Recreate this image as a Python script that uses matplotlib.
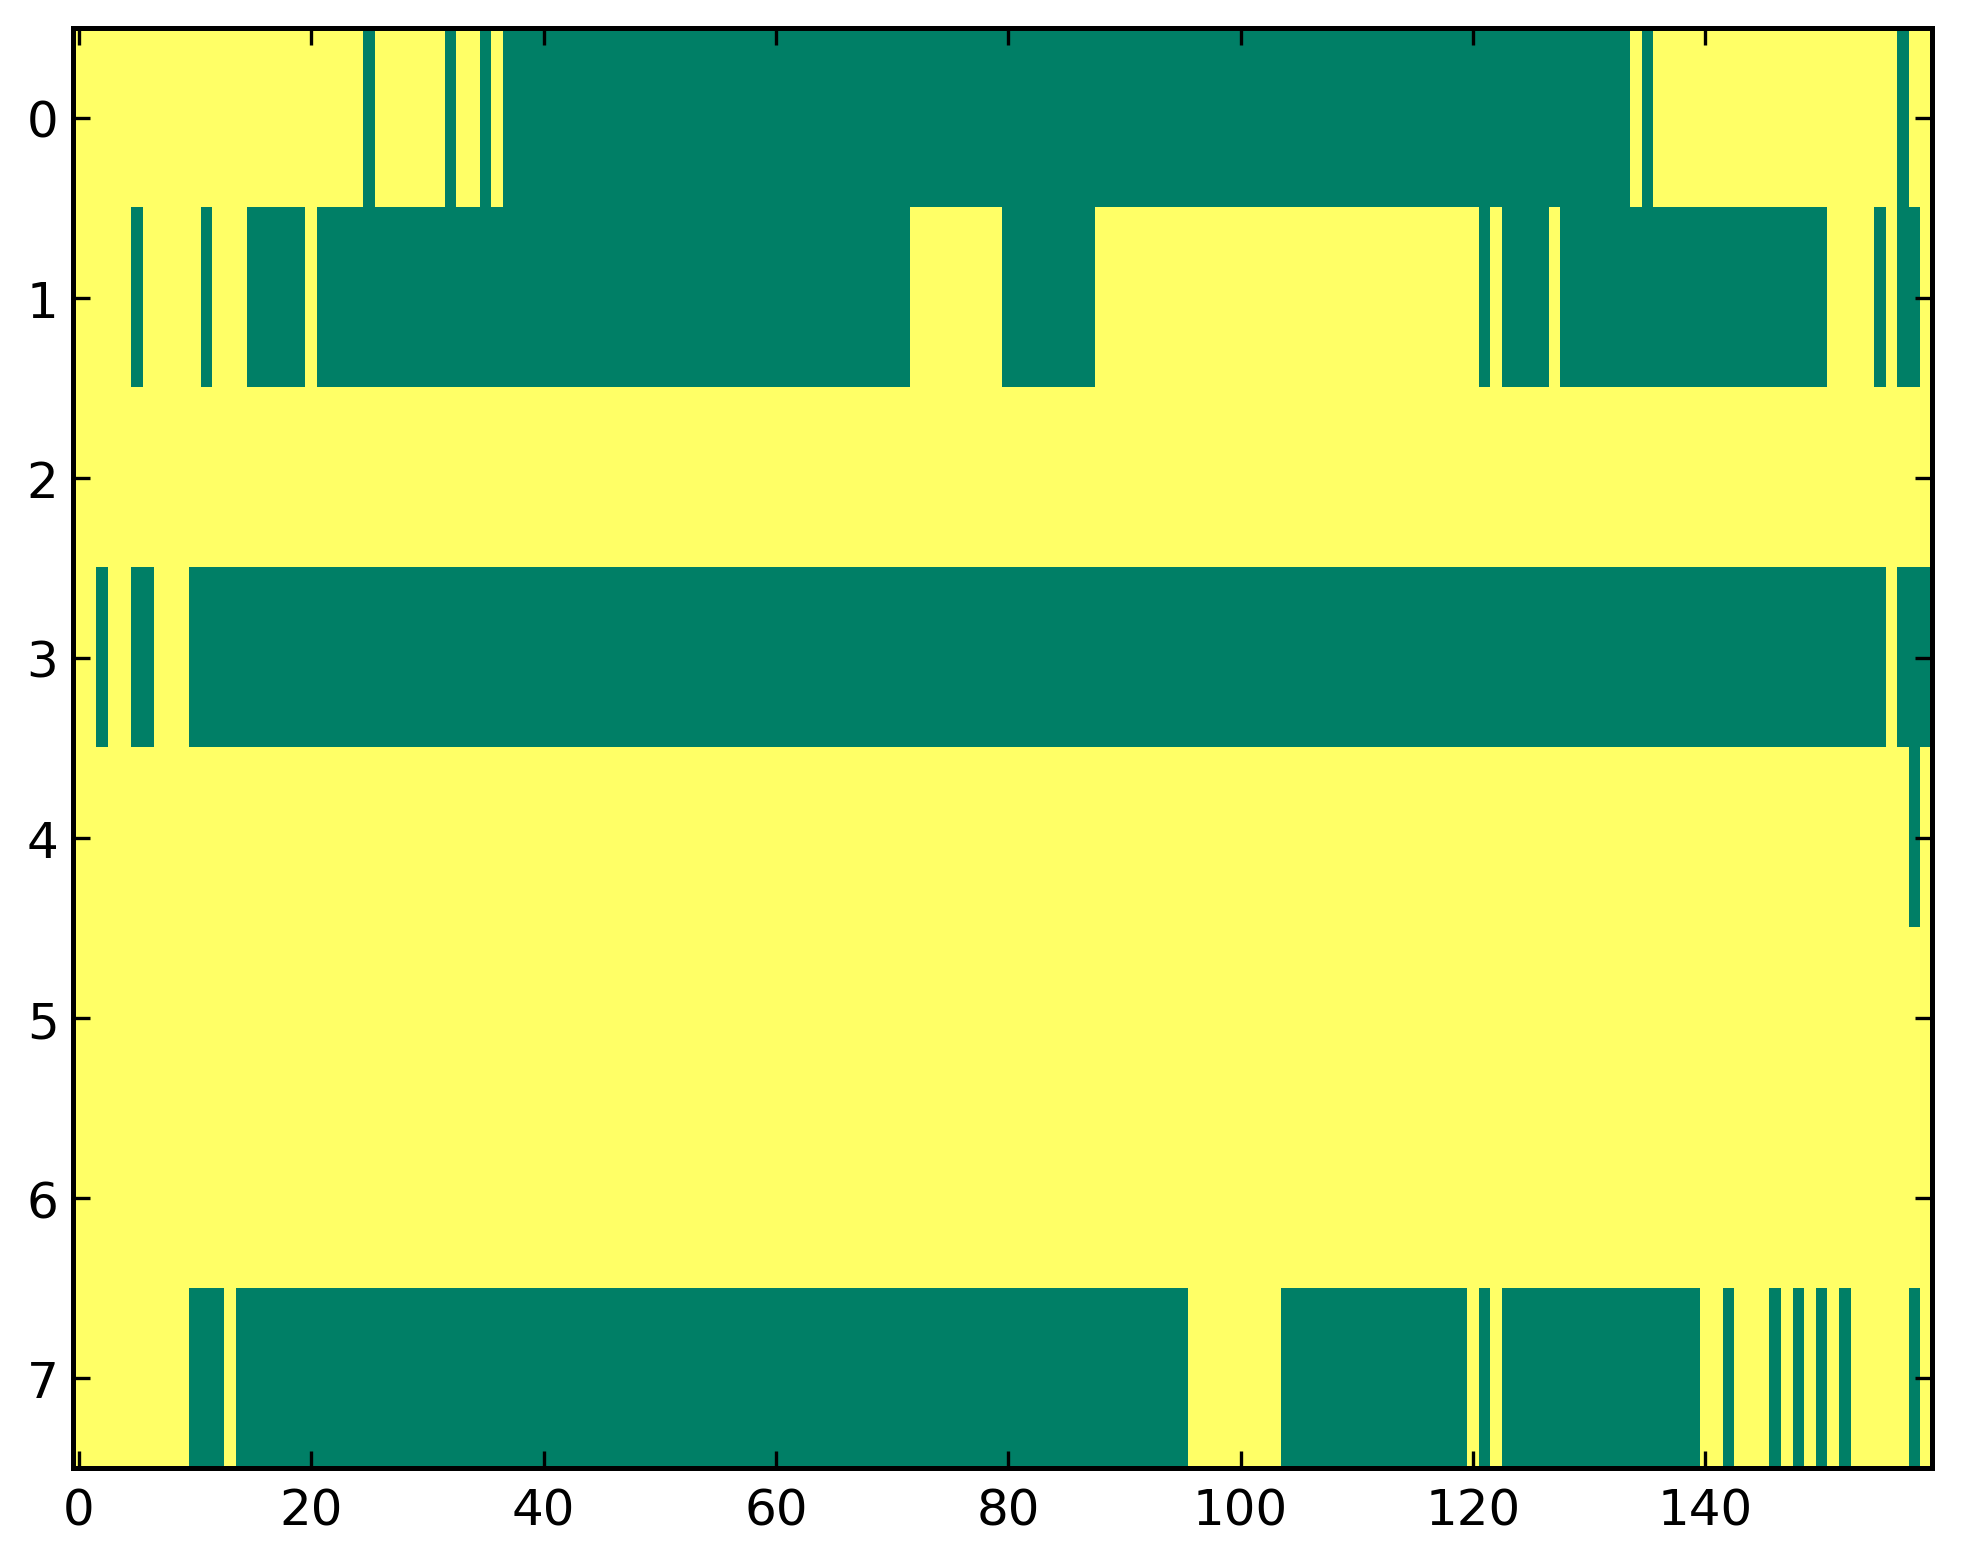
import numpy as np
import matplotlib
matplotlib.use('Agg')
import matplotlib.pyplot as plt

# matriz 8 x 160, 1 = amarelo, 0 = verde
n_linhas = 8
n_colunas = 160

# trechos verdes (inicio, fim) inclusivos em cada linha
verde_0 = [(25, 25), (32, 32), (35, 35), (37, 133), (135, 135), (157, 157)]
verde_1 = [(5, 5), (11, 11), (15, 19), (21, 71), (80, 87), (121, 121),
           (123, 126), (128, 150), (155, 155), (157, 158)]
verde_2 = []
verde_3 = [(2, 2), (5, 6), (10, 155), (157, 159)]
verde_4 = [(158, 158)]
verde_5 = []
verde_6 = []
verde_7 = [(10, 12), (14, 95), (104, 119), (121, 121), (123, 139), (142, 142),
           (146, 146), (148, 148), (150, 150), (152, 152), (158, 158)]

trechos = [verde_0, verde_1, verde_2, verde_3, verde_4, verde_5, verde_6, verde_7]

M = np.ones((n_linhas, n_colunas))
for i, lista in enumerate(trechos):
    for a, b in lista:
        M[i, a:b + 1] = 0

plt.rcParams['font.size'] = 12
plt.rcParams['axes.linewidth'] = 1.2
plt.rcParams['xtick.direction'] = 'in'
plt.rcParams['ytick.direction'] = 'in'
plt.rcParams['xtick.top'] = True
plt.rcParams['ytick.right'] = True
plt.rcParams['xtick.major.size'] = 4
plt.rcParams['ytick.major.size'] = 4
plt.rcParams['xtick.major.pad'] = 4.5
plt.rcParams['ytick.major.pad'] = 3.5

fig = plt.figure(figsize=(1963 / 300, 1564 / 300), dpi=300, facecolor='white')
ax = fig.add_axes([0.0372, 0.0607, 0.9470, 0.9208])
ax.imshow(M, cmap='summer', vmin=0, vmax=1, aspect='auto', interpolation='nearest')
ax.set_xticks(np.arange(0, 160, 20))
ax.set_yticks(np.arange(0, 8, 1))

fig.savefig('out.png', dpi=300, facecolor='white')
